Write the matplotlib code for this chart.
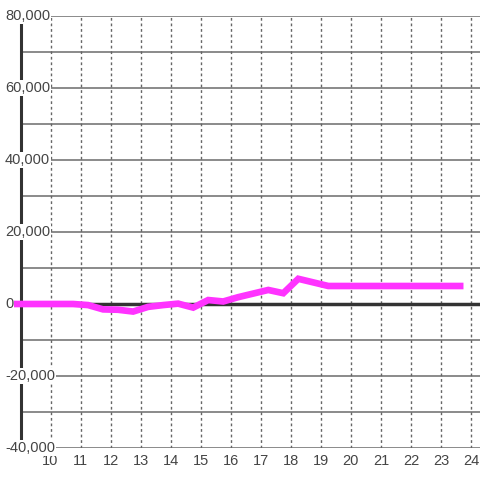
import matplotlib.pyplot as plt
import numpy as np

plt.rcParams['font.family'] = ['Liberation Sans', 'DejaVu Sans']

# half-hour samples (first one sits left of the y axis)
hours = [8.5] + list(np.arange(9.25, 23.76, 0.5))
values = [0, 0, 0, 0, 0, -300, -1500, -1600, -2100, -800, -300, 100, -1000,
          1100, 700, 1900, 2900, 3900, 3000, 7000, 6000, 5000,
          5000, 5000, 5000, 5000, 5000, 5000, 5000, 5000, 5000]
y_ticks = [80000, 60000, 40000, 20000, 0, -20000, -40000]
y_labels = ['80,000', '60,000', '40,000', '20,000', '0', '-20,000', '-40,000']
x_ticks = list(range(10, 25))

fig = plt.figure(figsize=(4.8, 4.8), dpi=100)
W, H = 480, 480
ax = fig.add_axes([20.5 / W, 1 - 448 / H, (480 - 20.5) / W, (448 - 16) / H])

ax.set_xlim(9.0, 24.3)
ax.set_ylim(-40000, 80000)

for s in ['top', 'right', 'bottom']:
    ax.spines[s].set_visible(False)
ax.spines['left'].set_color('#333333')
ax.spines['left'].set_linewidth(2.2)
ax.spines['left'].set_zorder(3)

# grid
for v in range(-40000, 80001, 10000):
    ax.axhline(v, color='#777777', lw=1.2, zorder=1)
for t in x_ticks:
    ax.axvline(t, color='#666666', lw=1, ls=(0, (2, 2)), zorder=1)
ax.axhline(0, color='#333333', lw=2.5, zorder=2)

ax.plot(hours, values, color='#ff33ff', lw=4.8, zorder=4, clip_on=False,
        solid_joinstyle='miter', solid_capstyle='butt')

ax.set_xticks(x_ticks)
ax.set_xticklabels([str(t) for t in x_ticks])
ax.set_yticks([])
ax.tick_params(axis='x', length=0, pad=4, labelsize=10.5, labelcolor='#444444')

for v, lab in zip(y_ticks, y_labels):
    ax.annotate(lab, xy=(0, v), xycoords=ax.get_yaxis_transform(),
                xytext=(5 - 20.5, 0), textcoords='offset pixels', ha='left',
                va='center', fontsize=10.5, color='#444444', zorder=5,
                bbox=dict(boxstyle='square,pad=0.08', fc='white', ec='none'),
                annotation_clip=False)

fig.savefig('out.png', dpi=100)
